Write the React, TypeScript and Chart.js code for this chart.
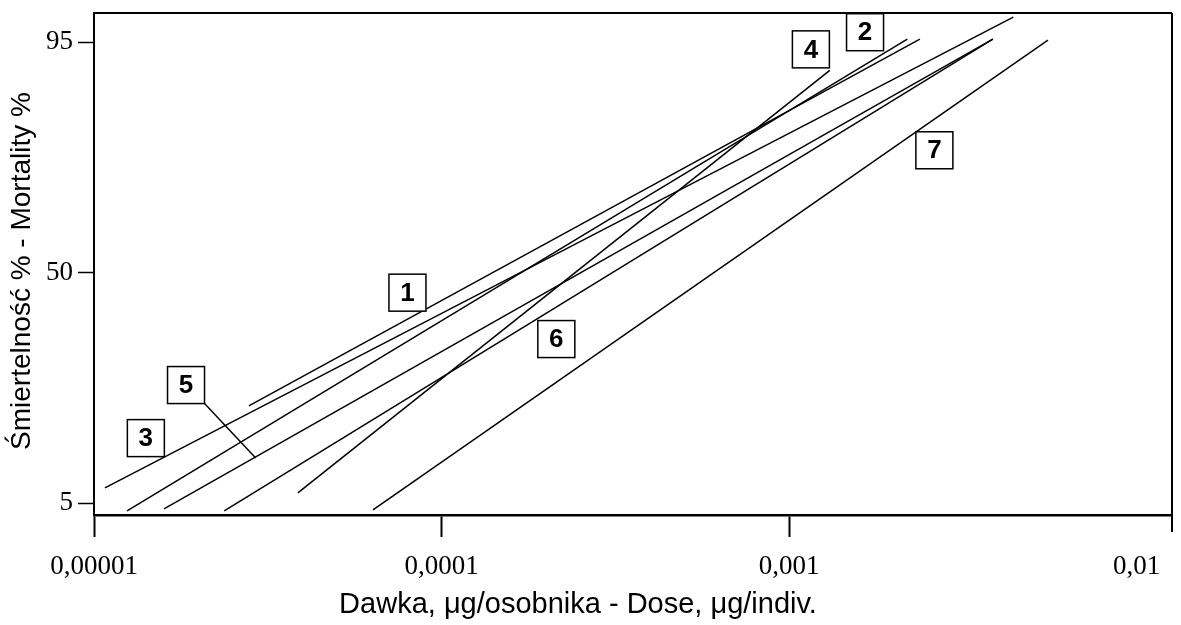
import React, { useEffect, useRef } from "react";
import Chart from "chart.js/auto";

// Probit-type mortality lines (dose in µg/individual, mortality %)
const lineNames = ["1", "2", "3", "4", "5", "6", "7"];
const doseStart = [2.79e-5, 1.245e-5, 1.075e-5, 3.86e-5, 1.59e-5, 2.37e-5, 6.35e-5];
const mortStart = [24.0, 3.5, 8.0, 7.0, 3.9, 3.5, 3.7];
const doseEnd = [2.38e-3, 2.19e-3, 4.42e-3, 1.31e-3, 3.86e-3, 3.86e-3, 5.56e-3];
const mortEnd = [95.6, 95.6, 99.9, 89.5, 95.6, 95.6, 95.4];

// Label boxes (centre in data coordinates)
const labelDose = [7.98e-5, 1.655e-3, 1.41e-5, 1.156e-3, 1.84e-5, 2.14e-4, 2.62e-3];
const labelMort = [46.1, 96.95, 17.7, 93.6, 28.06, 37.04, 73.9];
// Leader line from label "5" to its line
const leaderLabel = "5";
const leaderDose = 2.92e-5;
const leaderMort = 13.8;

const xTicks = [0.00001, 0.0001, 0.001, 0.01];
const xTickLabels = ["0,00001", "0,0001", "0,001", "0,01"];
const yTicks = [5, 50, 95];

const xTitle = "Dawka, μg/osobnika - Dose, μg/indiv.";
const yTitle = "Śmiertelność % - Mortality %";

export default function App() {
  const ref = useRef<HTMLCanvasElement | null>(null);

  useEffect(() => {
    document.body.style.margin = "0";
    const canvas = ref.current;
    if (!canvas) return;

    const datasets = lineNames.map((n, i) => ({
      label: n,
      data: [
        { x: doseStart[i], y: mortStart[i] },
        { x: doseEnd[i], y: mortEnd[i] },
      ],
      showLine: true,
      borderColor: "#000",
      borderWidth: 1.5,
      pointRadius: 0,
      fill: false,
    }));

    const decor = {
      id: "decor",
      afterDatasetsDraw(chart: any) {
        const ctx = chart.ctx as CanvasRenderingContext2D;
        const xs = chart.scales.x;
        const ys = chart.scales.y;
        const a = chart.chartArea;
        ctx.save();
        // top and right frame, right edge extension
        ctx.strokeStyle = "#000";
        ctx.lineWidth = 2;
        ctx.beginPath();
        ctx.moveTo(a.left, a.top);
        ctx.lineTo(a.right, a.top);
        ctx.moveTo(a.right, a.top);
        ctx.lineTo(a.right, a.bottom + 17);
        ctx.stroke();

        const bw = 37;
        const bh = 37;
        lineNames.forEach((n, i) => {
          const cx = xs.getPixelForValue(labelDose[i]);
          const cy = ys.getPixelForValue(labelMort[i]);
          if (n === leaderLabel) {
            ctx.lineWidth = 1.5;
            ctx.beginPath();
            ctx.moveTo(cx + bw / 2, cy + bh / 2);
            ctx.lineTo(xs.getPixelForValue(leaderDose), ys.getPixelForValue(leaderMort));
            ctx.stroke();
          }
          ctx.fillStyle = "#fff";
          ctx.fillRect(cx - bw / 2, cy - bh / 2, bw, bh);
          ctx.lineWidth = 1.5;
          ctx.strokeStyle = "#000";
          ctx.strokeRect(cx - bw / 2, cy - bh / 2, bw, bh);
          ctx.fillStyle = "#000";
          ctx.font = "bold 26px 'Liberation Sans', Arial, sans-serif";
          ctx.textAlign = "center";
          ctx.textBaseline = "middle";
          ctx.fillText(n, cx, cy + 1);
        });

        // axis titles
        ctx.fillStyle = "#000";
        ctx.font = "29px 'Liberation Sans', Arial, sans-serif";
        ctx.textAlign = "center";
        ctx.textBaseline = "middle";
        ctx.fillText(xTitle, 578, 605);
        ctx.save();
        ctx.translate(22, 271);
        ctx.rotate(-Math.PI / 2);
        ctx.font = "28px 'Liberation Sans', Arial, sans-serif";
        ctx.fillText(yTitle, 0, 0);
        ctx.restore();
        ctx.restore();
      },
    };

    const chart = new Chart(canvas, {
      type: "scatter",
      data: { datasets },
      plugins: [decor],
      options: {
        animation: false,
        responsive: false,
        maintainAspectRatio: false,
        layout: { padding: { top: 13, right: 9, left: 0, bottom: 0 } },
        plugins: {
          legend: { display: false },
          tooltip: { enabled: false },
        },
        scales: {
          x: {
            type: "logarithmic",
            min: 0.00001,
            max: 0.01265,
            afterBuildTicks: (s: any) => {
              s.ticks = xTicks.map((v) => ({ value: v }));
            },
            afterFit: (s: any) => {
              s.height = 110;
              s.paddingLeft = 0;
              s.paddingRight = 0;
            },
            ticks: {
              autoSkip: false,
              maxRotation: 0,
              padding: 14,
              color: "#000",
              font: { family: "'Liberation Serif', 'Times New Roman', serif", size: 27 },
              callback: (v: any) => {
                const i = xTicks.findIndex((t) => Math.abs(t - Number(v)) / t < 1e-6);
                return i >= 0 ? xTickLabels[i] : "";
              },
            },
            grid: {
              drawOnChartArea: false,
              drawTicks: true,
              tickLength: 22,
              tickWidth: 2,
              color: "#000",
              tickColor: (c: any) =>
                c.tick && Math.abs(c.tick.value - 0.01) < 1e-9 ? "rgba(0,0,0,0)" : "#000",
            },
            border: { display: true, color: "#000", width: 2.5 },
          },
          y: {
            type: "linear",
            min: 2.69,
            max: 100.7,
            afterBuildTicks: (s: any) => {
              s.ticks = yTicks.map((v) => ({ value: v }));
            },
            afterFit: (s: any) => {
              s.width = 94;
              s.paddingTop = 0;
              s.paddingBottom = 0;
            },
            ticks: {
              padding: 5,
              color: "#000",
              font: { family: "'Liberation Serif', 'Times New Roman', serif", size: 27 },
            },
            grid: {
              drawOnChartArea: false,
              drawTicks: true,
              tickLength: 16,
              tickWidth: 1.5,
              color: "#000",
            },
            border: { display: true, color: "#000", width: 2 },
          },
        },
      },
    });
    return () => chart.destroy();
  }, []);

  return (
    <div style={{ width: 1181, height: 625, background: "#fff" }}>
      <canvas ref={ref} width={1181} height={625} style={{ display: "block" }} />
    </div>
  );
}
